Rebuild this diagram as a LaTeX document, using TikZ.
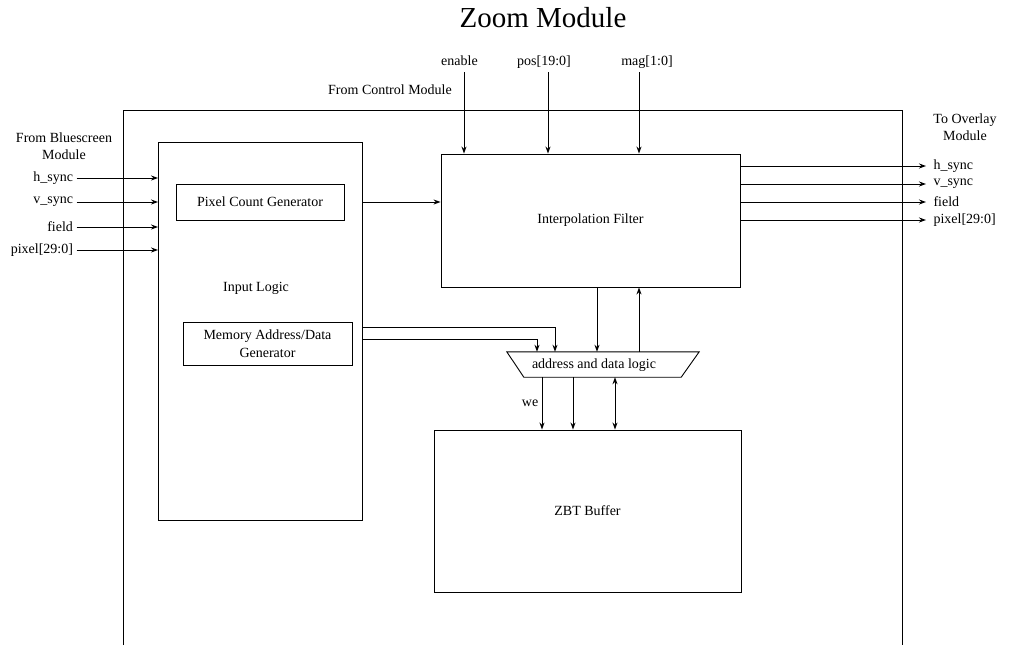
\documentclass[tikz,border=0pt]{standalone}
\usepackage{fontspec}
\setmainfont{Liberation Serif}
\usetikzlibrary{arrows.meta, positioning, shapes.geometric, calc}

\begin{document}
\begin{tikzpicture}[x=1pt, y=-1pt,
    block/.style={rectangle, draw, line width=0.9pt},
    sig/.style={line width=0.9pt, -{Stealth[length=7pt, width=5pt]}},
    twoway/.style={line width=0.9pt, {Stealth[length=7pt, width=5pt]}-{Stealth[length=7pt, width=5pt]}},
    every node/.style={font=\fontsize{14}{17.5}\selectfont}
]
\useasboundingbox (0,0) rectangle (1011,645);

% Title
\node[font=\fontsize{29}{34}\selectfont] (title) at (543,18) {Zoom Module};

% Module outline (open at the bottom)
\draw[line width=0.9pt] (123,645) -- (123,110) -- (902,110) -- (902,645);

% Blocks
\node[block, minimum width=204pt, minimum height=378pt] (inlogic) at (260.5,331) {};
\node (inlabel) at (256,288) {Input Logic};
\node[block, minimum width=168pt, minimum height=36pt] (pcg) at (260,202) {Pixel Count Generator};
\node[block, minimum width=169pt, minimum height=43pt, align=center] (mem) at (267.5,343.5) {Memory Address/Data\\Generator};
\node[block, minimum width=299pt, minimum height=133pt] (interp) at (590.5,220.5) {Interpolation Filter};
\node[block, minimum width=307pt, minimum height=162pt] (zbt) at (587.5,511) {ZBT Buffer};

% address and data logic (trapezoid)
\node[minimum width=192pt, minimum height=25pt, inner sep=0pt] (adl) at (603,364.5) {};
\node (adltext) at (594,365) {address and data logic};
\draw[line width=0.9pt] (adl.north west) -- (adl.north east) -- ([xshift=-18pt]adl.south east)
    -- ([xshift=17pt]adl.south west) -- cycle;

% Module labels
\node[align=center] (frombs) at (64,146) {From Bluescreen\\Module};
\node (fromctl) at (390,90) {From Control Module};
\node[align=center] (toov) at (965,127) {To Overlay\\Module};

% Inputs from bluescreen
\foreach \y/\nm/\txt in {178/hin/h\_sync, 202/vin/v\_sync, 227/fin/field, 250/pin/pixel[29:0]} {
    \node[anchor=east] (\nm) at (76.5,\y) {\txt};
    \draw[sig] (\nm.east) -- (\nm.east -| inlogic.west);
}

% Inputs from control
\foreach \x/\s/\nm/\txt in {459.5/4.5/en/enable, 544/4/pos/pos[19:0], 647/-8/mag/mag[1:0]} {
    \node[text height=10pt, text depth=3pt] (\nm) at (\x,62) {\txt};
    \draw[sig] ([xshift=\s pt]\nm.south) -- ([xshift=\s pt]\nm.south |- interp.north);
}

% Outputs to overlay
\foreach \y/\nm/\txt in {166/hout/h\_sync, 184/vout/v\_sync, 202/fout/field, 220/pout/pixel[29:0]} {
    \node[anchor=west] (\nm) at (930,\y) {\txt};
    \draw[sig] (\nm.west -| interp.east) -- ([xshift=-4pt]\nm.west);
}

% Internal connections
\draw[sig] (pcg.east -| inlogic.east) -- (pcg.east -| interp.west);
\draw[sig] ([yshift=-6pt]mem.north -| inlogic.east) -| ([xshift=-48pt]adl.north);
\draw[sig] ([yshift=-18pt]mem.north -| inlogic.east) -| ([xshift=-66pt]adl.north);
\draw[sig] ([xshift=6.5pt]interp.south) -- ([xshift=6.5pt]interp.south |- adl.north);
\draw[sig] ([xshift=36pt]adl.north) -- ([xshift=36pt]adl.north |- interp.south);
\draw[sig] ([xshift=-61pt]adl.south) -- ([xshift=-61pt]adl.south |- zbt.north) node[midway, left] {we};
\draw[sig] ([xshift=-30pt]adl.south) -- ([xshift=-30pt]adl.south |- zbt.north);
\draw[twoway] ([xshift=12pt]adl.south) -- ([xshift=12pt]adl.south |- zbt.north);

\end{tikzpicture}
\end{document}
